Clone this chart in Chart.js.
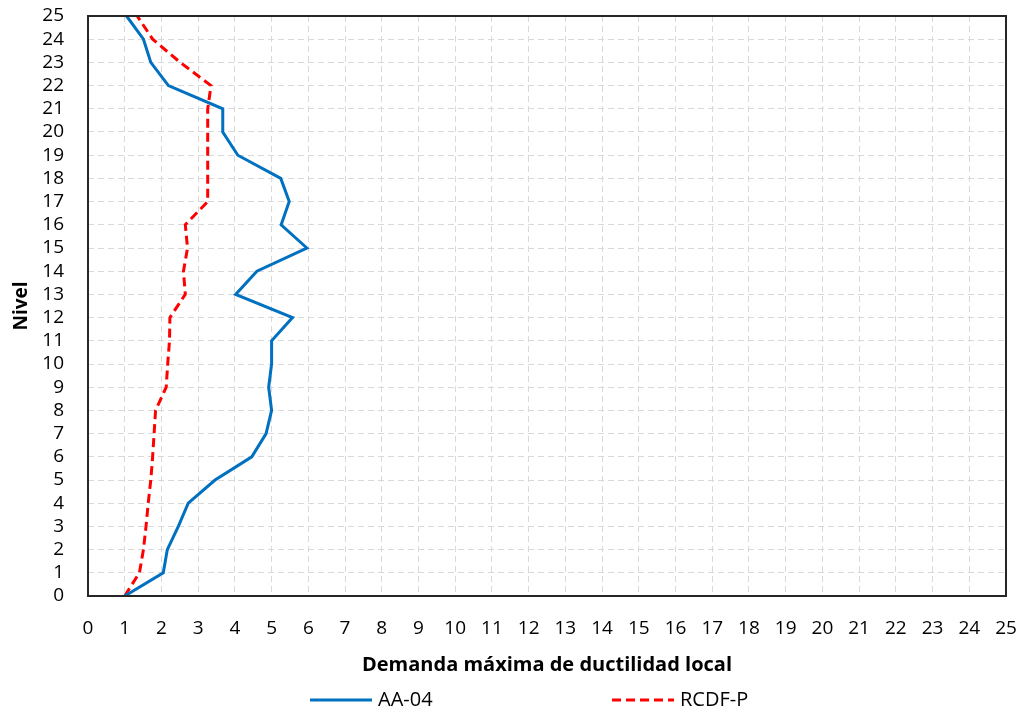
<!DOCTYPE html>
<html>
<head>
<meta charset="utf-8">
<script src="https://cdn.jsdelivr.net/npm/chart.js@4"></script>
<style>
  html, body { margin: 0; padding: 0; background: #fff; }
  #wrap { width: 1029px; height: 715px; }
</style>
</head>
<body>
<div id="wrap"><canvas id="chart"></canvas></div>
<script>
// niveles 0..25
const niveles = [0,1,2,3,4,5,6,7,8,9,10,11,12,13,14,15,16,17,18,19,20,21,22,23,24,25];
const aa04 = [1.0,2.05,2.16,2.46,2.73,3.46,4.46,4.85,5.0,4.92,5.0,5.0,5.57,4.02,4.6,5.96,5.26,5.48,5.25,4.08,3.67,3.67,2.19,1.71,1.51,1.05];
const rcdfP = [1.0,1.4,1.51,1.58,1.64,1.71,1.76,1.8,1.84,2.13,2.17,2.22,2.23,2.65,2.6,2.71,2.65,3.26,3.26,3.26,3.26,3.26,3.35,2.51,1.76,1.34];
const xTicks = [0,1,2,3,4,5,6,7,8,9,10,11,12,13,14,15,16,17,18,19,20,21,22,23,24,25];

const font = "'Open Sans', 'Noto Sans', sans-serif";

function toPoints(vals) {
    return vals.map((v, i) => ({ x: v, y: niveles[i] }));
}

// marco negro alrededor del area de trazado
const frame = {
    id: 'frame',
    afterDatasetsDraw(chart) {
        const a = chart.chartArea;
        const ctx = chart.ctx;
        ctx.save();
        ctx.strokeStyle = '#262626';
        ctx.lineWidth = 2;
        ctx.strokeRect(a.left, a.top, a.right - a.left, a.bottom - a.top);
        ctx.restore();
    }
};

// leyenda inferior, con mas separacion entre elementos que la de Chart.js
const bottomLegend = {
    id: 'bottomLegend',
    afterDraw(chart) {
        const ctx = chart.ctx;
        const y = 700;
        const starts = [310, 612];
        ctx.save();
        ctx.font = '20px ' + font;
        ctx.textBaseline = 'middle';
        chart.data.datasets.forEach((ds, i) => {
            const x = starts[i];
            ctx.beginPath();
            ctx.strokeStyle = ds.borderColor;
            ctx.lineWidth = ds.borderWidth;
            ctx.setLineDash(ds.borderDash || []);
            ctx.moveTo(x, y);
            ctx.lineTo(x + 62, y);
            ctx.stroke();
            ctx.setLineDash([]);
            ctx.fillStyle = '#000';
            ctx.fillText(ds.label, x + 68, y);
        });
        ctx.restore();
    }
};

new Chart(document.getElementById('chart'), {
    type: 'line',
    data: {
        datasets: [{
            label: 'AA-04',
            data: toPoints(aa04),
            borderColor: '#0070c0',
            borderWidth: 3,
            pointRadius: 0,
            tension: 0
        }, {
            label: 'RCDF-P',
            data: toPoints(rcdfP),
            borderColor: '#ff0000',
            borderWidth: 3,
            borderDash: [9, 5],
            pointRadius: 0,
            tension: 0
        }]
    },
    options: {
        responsive: true,
        maintainAspectRatio: false,
        animation: false,
        layout: { padding: { top: 16, right: 23, bottom: 38, left: 10 } },
        plugins: {
            legend: { display: false },
            tooltip: { enabled: false }
        },
        scales: {
            x: {
                type: 'linear',
                min: 0, max: 25,
                afterBuildTicks: axis => { axis.ticks = xTicks.map(v => ({ value: v })); },
                afterFit: axis => {
                    axis.height = 81;
                    axis.paddingLeft = 0;
                    axis.paddingRight = 12;
                },
                grid: { color: '#d9d9d9', lineWidth: 1, drawTicks: false },
                border: { display: false, dash: [6, 4] },
                ticks: { color: '#000', font: { family: font, size: 19 }, padding: 21, maxRotation: 0, autoSkip: false },
                title: {
                    display: true,
                    text: 'Demanda máxima de ductilidad local',
                    color: '#000',
                    font: { family: font, size: 20, weight: 'bold' },
                    padding: { top: 14, bottom: 0 }
                }
            },
            y: {
                type: 'linear',
                min: 0, max: 25,
                afterBuildTicks: axis => { axis.ticks = niveles.map(v => ({ value: v })); },
                afterFit: axis => {
                    axis.width = 78;
                    axis.paddingTop = 12;
                    axis.paddingBottom = 12;
                },
                grid: { color: '#d9d9d9', lineWidth: 1, drawTicks: false },
                border: { display: false, dash: [6, 4] },
                ticks: { color: '#000', font: { family: font, size: 19 }, padding: 24, autoSkip: false },
                title: {
                    display: true,
                    text: 'Nivel',
                    color: '#000',
                    font: { family: font, size: 19, weight: 'bold' },
                    padding: { top: 0, bottom: 8 }
                }
            }
        }
    },
    plugins: [frame, bottomLegend]
});
</script>
</body>
</html>
